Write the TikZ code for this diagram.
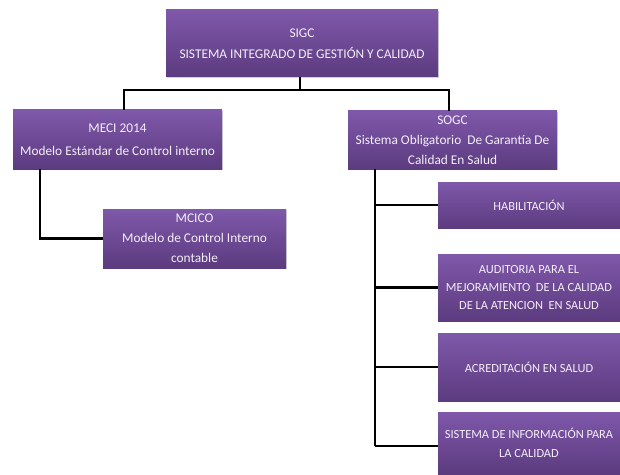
\documentclass[tikz,border=0pt]{standalone}
\usepackage{fontspec}
\setmainfont{Carlito}
\usetikzlibrary{shadows,calc}
\definecolor{boxtop}{HTML}{7F58AA}
\definecolor{boxbot}{HTML}{5C3B7F}
\definecolor{boxtext}{HTML}{F4EEF8}
\tikzset{
  orgbox/.style={rectangle, draw=none, top color=boxtop, bottom color=boxbot,
    text=boxtext, align=center, inner sep=1pt,
    font=\fontsize{10}{16}\selectfont,
    drop shadow={opacity=0.35, shadow xshift=0.8pt, shadow yshift=-0.8pt}},
  smalltext/.style={font=\fontsize{9.3}{13.8}\selectfont},
  treeline/.style={draw=black, line width=1.1pt},
  branchline/.style={draw=black, line width=1.6pt}
}
\begin{document}
\begin{tikzpicture}[x=0.75pt, y=-0.75pt]
\useasboundingbox (0,0) rectangle (620,474);
\node[orgbox, minimum width=272*0.75pt, minimum height=67*0.75pt] (sigc) at (302,43.5)
  {SIGC\\SISTEMA INTEGRADO DE GESTIÓN Y CALIDAD};
\node[orgbox, minimum width=209*0.75pt, minimum height=59*0.75pt, font=\fontsize{10}{17}\selectfont] (meci) at (117.5,139.5)
  {MECI 2014\\Modelo Estándar de Control interno};
\node[orgbox, minimum width=183*0.75pt, minimum height=59*0.75pt, font=\fontsize{10}{15}\selectfont] (mcico) at (194.5,238.5)
  {MCICO\\Modelo de Control Interno\\contable};
\node[orgbox, minimum width=209*0.75pt, minimum height=58*0.75pt, font=\fontsize{10}{15}\selectfont] (sogc) at (452.5,140)
  {SOGC\\Sistema Obligatorio \ De Garantía De\\Calidad En Salud};
\node[orgbox, smalltext, minimum width=182*0.75pt, minimum height=46*0.75pt] (hab) at (529,205)
  {HABILITACIÓN};
\node[orgbox, smalltext, minimum width=182*0.75pt, minimum height=67*0.75pt] (aud) at (529,287.5)
  {AUDITORIA PARA EL\\MEJORAMIENTO \ DE LA CALIDAD\\DE LA ATENCION \ EN SALUD};
\node[orgbox, smalltext, minimum width=182*0.75pt, minimum height=68*0.75pt] (acr) at (529,367)
  {ACREDITACIÓN EN SALUD};
\node[orgbox, smalltext, minimum width=182*0.75pt, minimum height=62*0.75pt] (sis) at (529,443)
  {SISTEMA DE INFORMACIÓN PARA\\LA CALIDAD};
% top tree
\coordinate (j) at (300,90);
\draw[treeline] ($(sigc.south)+(-2,0)$) -- (j);
\draw[treeline] ($(meci.north)+(6.5,0)$) |- (j) -| ($(sogc.north)+(-3.5,0)$);
% MECI -> MCICO
\coordinate (mc) at (40,169);
\draw[branchline] (mc) |- (mcico.west);
% SOGC branch
\coordinate (sg) at (375,169);
\coordinate (sgend) at (375,446);
\draw[branchline] (sg) -- (sgend);
\draw[branchline] (hab.west -| sg) -- (hab.west);
\draw[branchline] (aud.west -| sg) -- (aud.west);
\draw[branchline] (acr.west -| sg) -- (acr.west);
\draw[branchline] (sgend) -- (sgend -| sis.west);
\end{tikzpicture}
\end{document}
